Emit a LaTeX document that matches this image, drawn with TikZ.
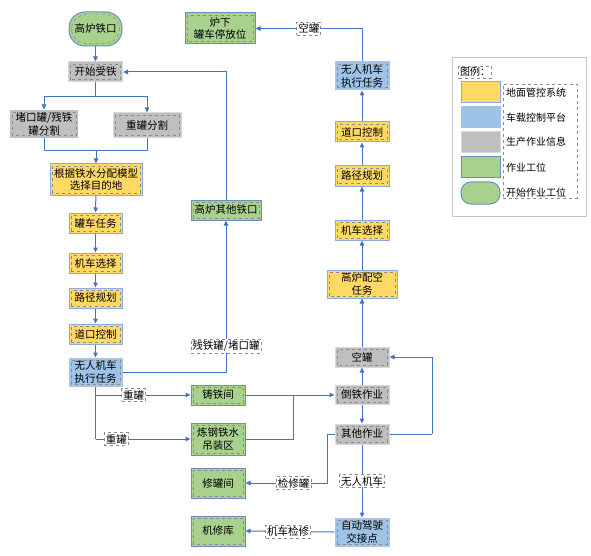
\documentclass[tikz,border=0pt]{standalone}
\usepackage{fontspec}
\newfontfamily\cjk{Noto Sans CJK SC}
\usetikzlibrary{arrows.meta,shapes.misc}
\definecolor{cLine}{HTML}{4472C4}
\definecolor{cYel}{HTML}{FFD966}
\definecolor{cBlue}{HTML}{9DC3E6}
\definecolor{cGray}{HTML}{BFBFBF}
\definecolor{cGreen}{HTML}{A9D18E}
\definecolor{cBdB}{HTML}{8FAADC}
\definecolor{cBdG}{HTML}{6C8EBF}
\definecolor{cDash}{HTML}{8C8C8C}
\tikzset{
  txt/.style={font=\cjk\fontsize{10.5}{12.5}\selectfont, align=center, inner sep=1pt},
  inframe/.style={path picture={\draw[dashed, cDash, line width=0.6pt]
      ([shift={(2.2pt,2.2pt)}]path picture bounding box.south west) rectangle
      ([shift={(-2.2pt,-2.2pt)}]path picture bounding box.north east);}},
  boxbase/.style={txt, inframe, rectangle, minimum width=54pt, minimum height=20pt, line width=1pt},
  yel/.style={boxbase, fill=cYel, draw=cBdB},
  blu/.style={boxbase, fill=cBlue, draw=cBdB!70},
  gry/.style={boxbase, fill=cGray, draw=gray!30},
  grn/.style={boxbase, fill=cGreen, draw=cBdG},
  startbox/.style={boxbase, fill=cGreen, draw=cBdG, rounded corners=16pt},
  lbl/.style={txt, fill=white, draw=cDash, dashed, line width=0.6pt, inner sep=1.5pt},
  ln/.style={draw=cLine, line width=1pt},
  ar/.style={ln, -{Triangle[length=5pt,width=4.5pt]}},
  legtxt/.style={txt, anchor=west, font=\cjk\fontsize{10}{11}\selectfont},
}
\begin{document}
\begin{tikzpicture}[x=1pt,y=-1pt]
\useasboundingbox (0,0) rectangle (591,556);

% left column
\node[startbox, minimum width=53pt, minimum height=34pt] (gk) at (95.5,29) {高炉铁口};
\node[gry] (ks) at (95.5,72) {开始受铁};
\node[gry, draw=none, minimum width=68pt, minimum height=28pt] (s1) at (44,124) {堵口罐/残铁\\罐分割};
\node[gry, minimum width=68pt, minimum height=25pt] (s2) at (147,125.5) {重罐分割};
\node[yel, minimum width=92pt, minimum height=31pt] (gj) at (96,179.5) {根据铁水分配模型\\选择目的地};
\node[yel, minimum width=53pt] (rw) at (95.5,223) {罐车任务};
\node[yel, minimum width=53pt] (jc1) at (95.5,263) {机车选择};
\node[yel, minimum width=53pt] (lj1) at (95.5,298) {路径规划};
\node[yel, minimum width=53pt] (dk1) at (95.5,334) {道口控制};
\node[blu, minimum width=53pt, minimum height=28pt] (wr1) at (95.5,372) {无人机车\\执行任务};

% middle column
\node[grn, minimum width=70pt, minimum height=31pt] (lx) at (220,28.5) {炉下\\罐车停放位};
\node[grn, minimum width=70pt] (qt) at (226,210) {高炉其他铁口};
\node[grn] (zt) at (218,395) {铸铁间};
\node[grn, minimum height=32pt] (lg) at (218,439) {炼钢铁水\\吊装区};
\node[grn, minimum height=30pt] (xg) at (218,483) {修罐间};
\node[grn, minimum height=30pt] (jx) at (218,531) {机修库};

% right column
\node[blu, minimum height=28pt] (wr2) at (362,76) {无人机车\\执行任务};
\node[yel] (dk2) at (362,132) {道口控制};
\node[yel] (lj2) at (362,176) {路径规划};
\node[yel] (jc2) at (362,230) {机车选择};
\node[yel, minimum width=70pt, minimum height=28pt] (pk) at (362,284) {高炉配空\\任务};
\node[gry] (kg) at (362,357) {空罐};
\node[gry, minimum height=19pt] (dt) at (362,395) {倒铁作业};
\node[gry] (qz) at (362,434) {其他作业};
\node[blu, minimum height=28pt] (zd) at (362,532) {自动驾驶\\交接点};

% connectors left
\draw[ar] (gk) -- (ks);
\coordinate (sp) at (95.5,97);
\draw[ln] (ks.south) -- (sp);
\draw[ar] (sp) -| (s1.north);
\draw[ar] (sp) -| (s2.north);
\coordinate (jn) at (96,151);
\draw[ln] (s1.south) |- (jn);
\draw[ln] (s2.south) |- (jn);
\draw[ar] (jn) -- (gj.north);
\draw[ar] (gj) -- (rw);
\draw[ar] (rw) -- (jc1);
\draw[ar] (jc1) -- (lj1);
\draw[ar] (lj1) -- (dk1);
\draw[ar] (dk1) -- (wr1);
\draw[ar] (wr1.east) -| node[lbl, pos=0.585] {残铁罐/堵口罐} (qt.south);
\draw[ar] (qt.north) |- (ks.east);
\coordinate (b1) at (95.5,395);
\coordinate (b2) at (95.5,439);
\draw[ln] (wr1.south) -- (b2);
\draw[ar] (b1) -- node[lbl, pos=0.4] {重罐} (zt.west);
\draw[ar] (b2) -- node[lbl, pos=0.22] {重罐} (lg.west);

% connectors middle/right
\draw[ar] (zt.east) -- (dt.west);
\coordinate (mg) at (293,395);
\draw[ln] (lg.east) -| (mg);
\draw[ar] (dt) -- (qz);
\draw[ar] (dt) -- (kg);
\coordinate (rq) at (432,434);
\draw[ln] (qz.east) -- (rq);
\draw[ar] (rq) |- (kg.east);
\draw[ar] (kg) -- (pk);
\draw[ar] (pk) -- (jc2);
\draw[ar] (jc2) -- (lj2);
\draw[ar] (lj2) -- (dk2);
\draw[ar] (dk2) -- (wr2);
\draw[ar] (wr2.north) |- node[lbl, pos=0.75] {空罐} (lx.east);
\draw[ar] (qz) -- node[lbl, pos=0.5] {无人机车} (zd);
\coordinate (lq) at (327,434);
\draw[ln] (qz.west) -- (lq);
\draw[ar] (lq) |- node[lbl, pos=0.705] {检修罐} (xg.east);
\draw[ar] (zd.west) -- node[lbl, pos=0.52] {机车检修} (jx.east);

% legend
\node[draw=gray!45, line width=0.8pt, minimum width=134pt, minimum height=159pt] (leg) at (519,136.5) {};
\node[lbl, font=\cjk\fontsize{10}{11}\selectfont] (legt) at (475,72) {图例：};
\node[draw=cDash, dashed, line width=0.6pt, minimum width=74pt, minimum height=114pt] (legf) at (540,141) {};
\node[fill=cYel, draw=cBdB, line width=1pt, minimum width=39pt, minimum height=21pt] (sw1) at (480.5,92.5) {};
\node[fill=cBlue, draw=cBlue, line width=1pt, minimum width=39pt, minimum height=21pt] (sw2) at (480.5,117.5) {};
\node[fill=cGray, draw=gray!30, line width=1pt, minimum width=39pt, minimum height=21pt] (sw3) at (480.5,142) {};
\node[fill=cGreen, draw=cBdG, line width=1pt, minimum width=39pt, minimum height=21pt] (sw4) at (480.5,167.5) {};
\node[fill=cGreen, draw=cBdG, line width=1pt, rounded corners=10pt, minimum width=39pt, minimum height=22pt] (sw5) at (480.5,193) {};
\node[legtxt] (t1) at (505,92.5) {地面管控系统};
\node[legtxt] (t2) at (505,117.5) {车载控制平台};
\node[legtxt] (t3) at (505,142) {生产作业信息};
\node[legtxt] (t4) at (505,167.5) {作业工位};
\node[legtxt] (t5) at (505,193) {开始作业工位};
\end{tikzpicture}
\end{document}
